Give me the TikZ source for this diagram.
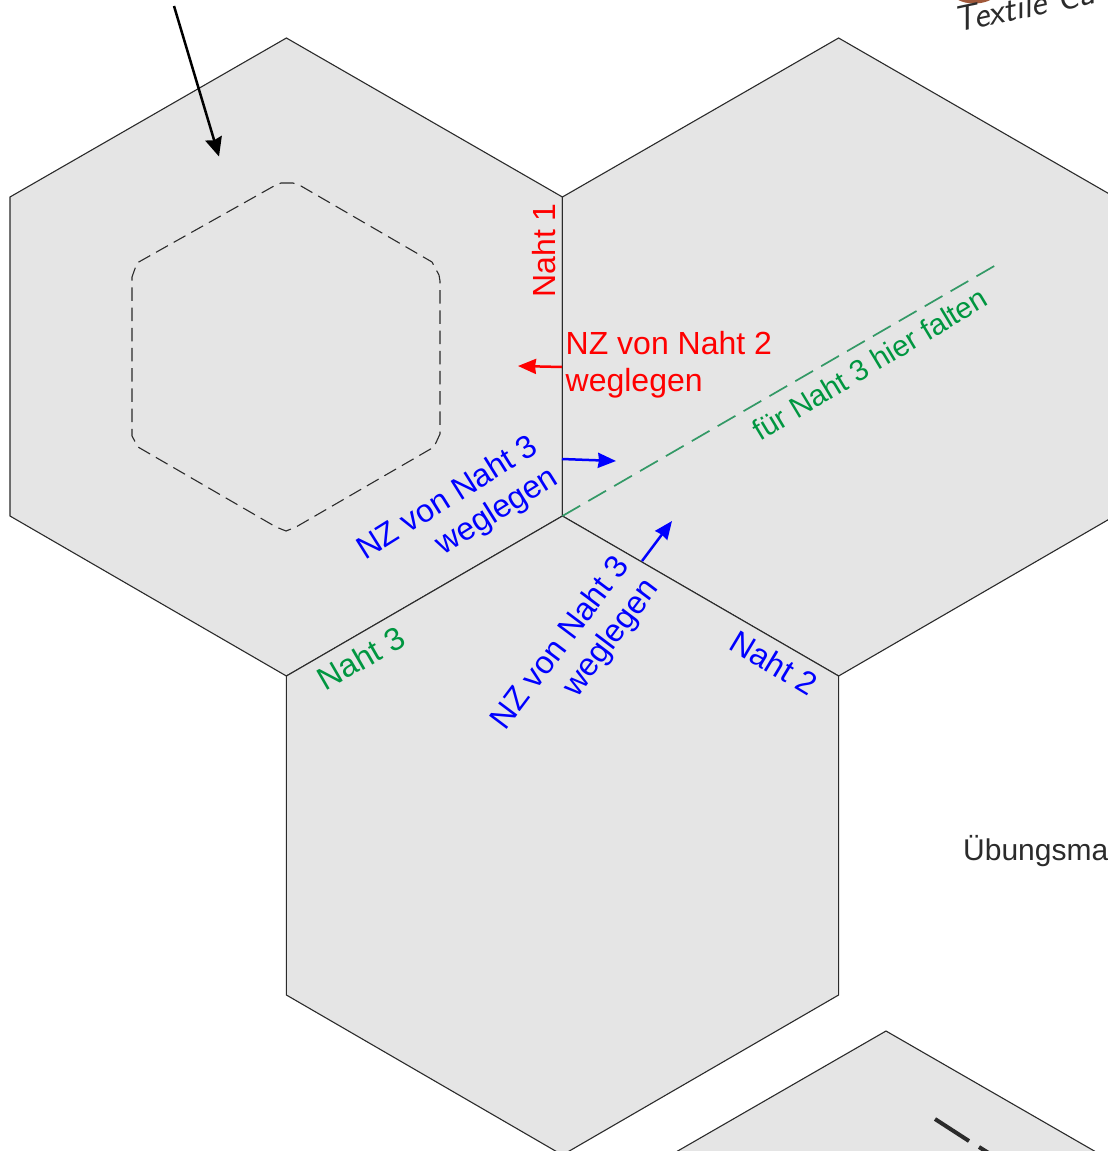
\documentclass[tikz,border=0pt]{standalone}
\usepackage{fontspec}
\setmainfont{Liberation Sans}
\usetikzlibrary{arrows.meta}
\definecolor{hexfill}{HTML}{E5E5E5}
\definecolor{edgegray}{HTML}{2B2B2B}
\definecolor{foldgreen}{HTML}{339966}
\definecolor{labelgreen}{HTML}{009640}
\definecolor{labelblue}{HTML}{0000FF}
\definecolor{labelred}{HTML}{FF0000}
\definecolor{logobrown}{HTML}{A0583A}
\tikzset{
  hexcell/.style={fill=hexfill,draw=edgegray,line width=1.1pt,line join=miter},
  lbl/.style={font=\fontsize{32}{37}\selectfont,inner sep=0pt,align=#1},
  lbl/.default=center,
  arrowline/.style={line width=2.5pt,-{Stealth[length=19pt,width=17pt,inset=2pt]}},
  arrowsmall/.style={line width=2.5pt,-{Stealth[length=18pt,width=15pt,inset=1pt]}},
}
\begin{document}
\begin{tikzpicture}[x=1pt,y=-1pt]
\useasboundingbox (0,0) rectangle (1108,1151);
\clip (0,0) rectangle (1108,1151);
\fill[white] (0,0) rectangle (1108,1151);
% hexagons
\draw[hexcell] (286.4,38) -- (562.4,197) -- (562.4,516) -- (286.4,676) -- (10,516) -- (10,197) -- cycle;
\draw[hexcell] (838.6,38) -- (1114.6,197) -- (1114.6,516) -- (838.6,676) -- (562.4,516) -- (562.4,197) -- cycle;
\draw[hexcell] (562.4,516) -- (838.6,676) -- (838.6,995) -- (562.4,1155) -- (286.4,995) -- (286.4,676) -- cycle;
\draw[hexcell] (886,1031) -- (1162,1190) -- (610,1190) -- cycle;
% inner dashed hexagon
\draw[edgegray,line width=1.1pt,dash pattern=on 13.5pt off 6.7pt]
  (281,183) -- (293,183) -- (301,186) -- (432,262) -- (439,275) -- (440,281) -- (440,434) -- (434,447)
  -- (296,527) -- (286,531) -- (276,527) -- (138,447) -- (132,436) -- (132,277) -- (137,263)
  -- (274,186) -- cycle;
% lower hexagon's stitch line
\draw[edgegray,line width=4pt] (935,1119) -- (969,1141);
\draw[edgegray,line width=4pt] (979,1147) -- (995,1157);
% fold line
\coordinate (foldA) at (562.4,516);
\coordinate (foldB) at (996,265);
\draw[foldgreen,line width=1.7pt,dash pattern=on 20.5pt off 9.4pt] (foldA) -- (foldB);
% arrows
\coordinate (a1) at (174,6);   \coordinate (a2) at (219,156.5);
\draw[black,arrowline] (a1) -- (a2);
\coordinate (r1) at (562,367); \coordinate (r2) at (518,366);
\draw[labelred,arrowsmall] (r1) -- (r2);
\coordinate (b1) at (562,459); \coordinate (b2) at (616,461);
\draw[labelblue,arrowsmall] (b1) -- (b2);
\coordinate (c1) at (642,561); \coordinate (c2) at (672,521);
\draw[labelblue,arrowsmall] (c1) -- (c2);
% labels
\node[lbl,text=labelred,rotate=90] (naht1) at (544,250.5) {Naht 1};
\node[lbl=left,text=labelred,anchor=west] (nz2) at (565.5,365) {NZ von Naht 2\\weglegen};
\node[lbl=right,text=labelblue,rotate=32] (nz3a) at (458,515) {NZ von Naht 3\\weglegen};
\node[lbl=right,text=labelblue,rotate=53] (nz3b) at (576,655) {NZ von Naht 3\\weglegen};
\node[lbl,text=labelgreen,rotate=30] (naht3) at (361,658) {Naht 3};
\node[lbl,text=labelblue,rotate=-31] (naht2) at (774,663) {Naht 2};
\node[lbl,text=labelgreen,rotate=31,font=\fontsize{29.5}{34}\selectfont] (fold) at (870,364) {für Naht 3 hier falten};
\node[lbl,text=edgegray,anchor=west,font=\fontsize{30}{36}\selectfont] (ueb) at (963,851) {Übungsma};
% logo
\fill[logobrown] (953,-4) .. controls (962,6) and (986,6) .. (996,-4) -- cycle;
\node[lbl,text=edgegray,anchor=base west,rotate=12,font=\fontsize{36}{38}\selectfont\sffamily\itshape] (logo) at (956,33) {Textile Ca};
\end{tikzpicture}
\end{document}
